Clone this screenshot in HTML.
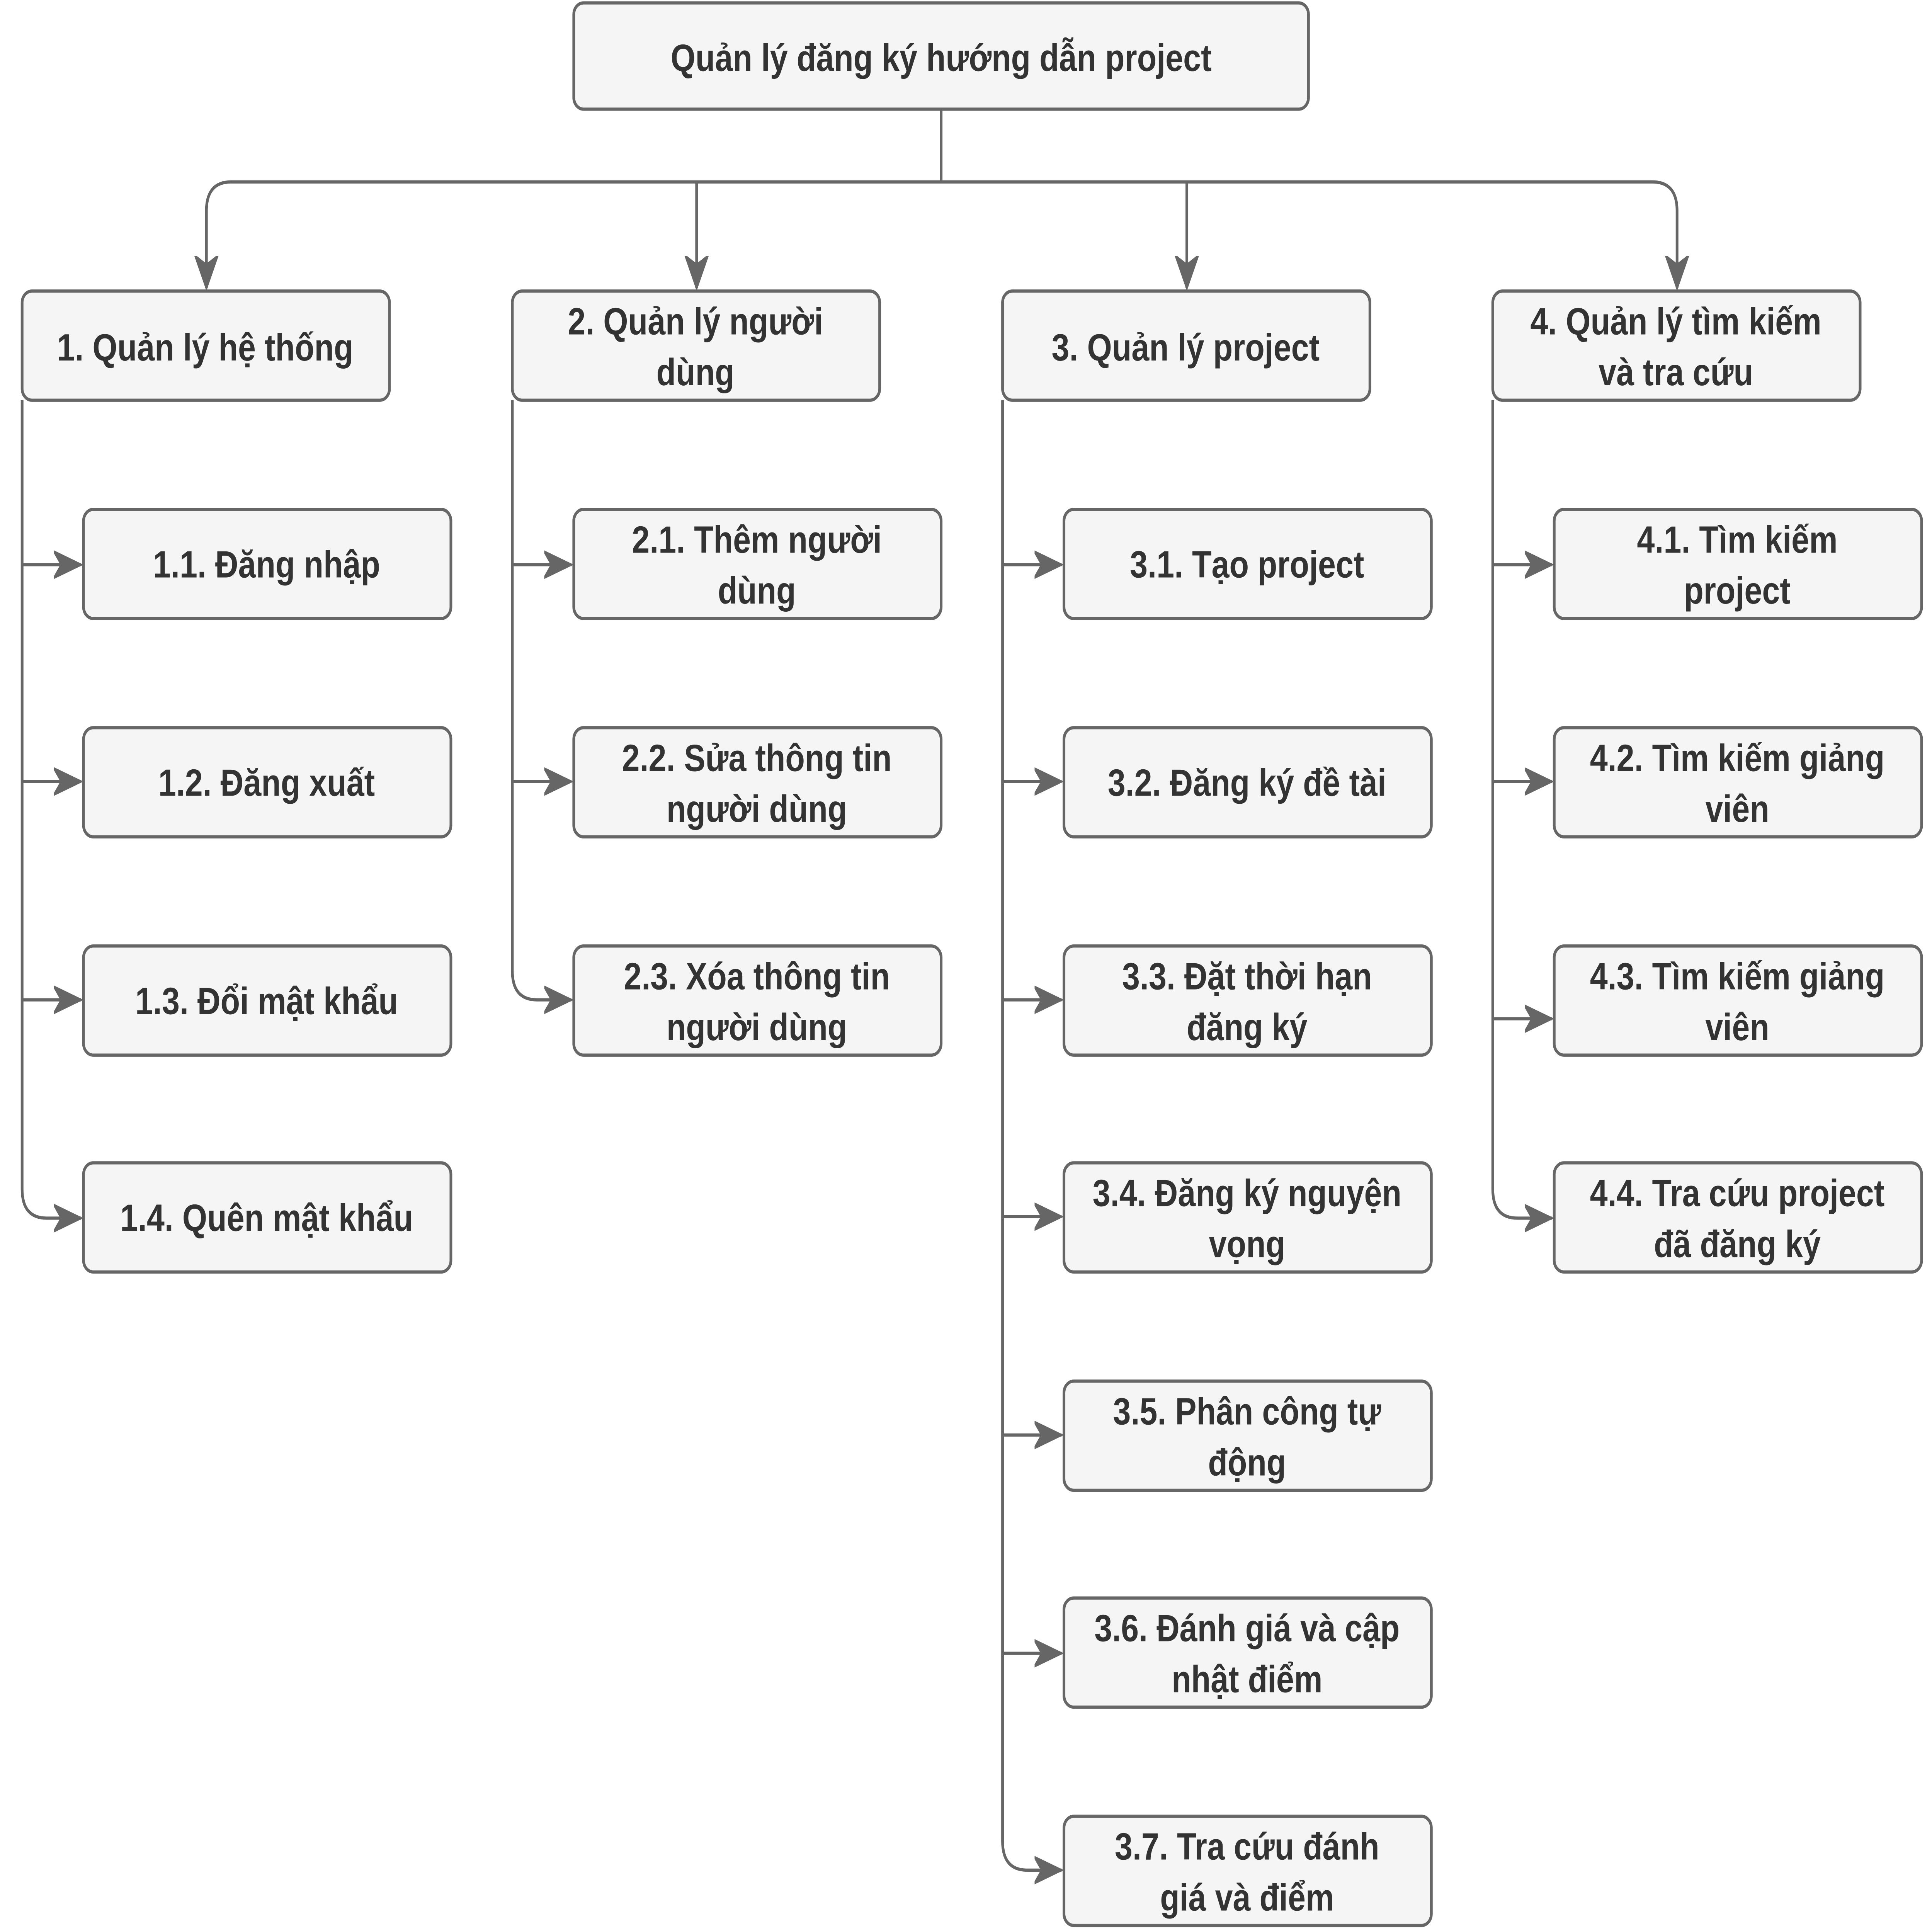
<!DOCTYPE html>
<html><head><meta charset="utf-8"><style>
html,body{margin:0;padding:0;background:#fff;width:100%;height:100%;overflow:hidden;}
svg{display:block;width:100vw;height:100vh;}
text{font-family:"Liberation Sans","DejaVu Sans",sans-serif;font-weight:bold;font-size:26px;fill:#333;text-anchor:middle;dominant-baseline:central;}
rect{fill:#f5f5f5;stroke:#666;stroke-width:2.2;}
path.c{fill:none;stroke:#666;stroke-width:2.2;}
</style></head><body>
<svg viewBox="0 0 1572.5 1327.5" preserveAspectRatio="none" xmlns="http://www.w3.org/2000/svg">
<defs>
<marker id="m" markerWidth="24" markerHeight="20" refX="22" refY="10" orient="auto" markerUnits="userSpaceOnUse" viewBox="0 0 24 20">
<path d="M0,1 L22,10 L0,19 L6,10 Z" fill="#666" stroke="#666" stroke-width="1.5"/></marker></defs>

<path class="c" d="M766,75 V125"/>
<path class="c" d="M188,125 H1345 Q1365,125 1365,145 V198" marker-end="url(#m)"/>
<path class="c" d="M188,125 Q168,125 168,145 V198" marker-end="url(#m)"/>
<path class="c" d="M567,125 V198" marker-end="url(#m)"/>
<path class="c" d="M966,125 V198" marker-end="url(#m)"/>

<rect x="467" y="2" width="598" height="73" rx="8"/>
<text x="766" y="40">Quản lý đăng ký hướng dẫn project</text>

<rect x="18" y="200" width="299" height="75" rx="8"/><text x="167" y="239">1. Quản lý hệ thống</text>
<rect x="417" y="200" width="299" height="75" rx="8"/><text x="566" y="221">2. Quản lý người</text><text x="566" y="256">dùng</text>
<rect x="816" y="200" width="299" height="75" rx="8"/><text x="965" y="239">3. Quản lý project</text>
<rect x="1215" y="200" width="299" height="75" rx="8"/><text x="1364" y="221">4. Quản lý tìm kiếm</text><text x="1364" y="256">và tra cứu</text>

<path class="c" d="M18,275 V817 Q18,837 38,837 H66" marker-end="url(#m)"/>
<path class="c" d="M18,388 H66" marker-end="url(#m)"/>
<path class="c" d="M18,537 H66" marker-end="url(#m)"/>
<path class="c" d="M18,687 H66" marker-end="url(#m)"/>
<rect x="68" y="350" width="299" height="75" rx="8"/><text x="217" y="388">1.1. Đăng nhập</text>
<rect x="68" y="500" width="299" height="75" rx="8"/><text x="217" y="538">1.2. Đăng xuất</text>
<rect x="68" y="650" width="299" height="75" rx="8"/><text x="217" y="688">1.3. Đổi mật khẩu</text>
<rect x="68" y="799" width="299" height="75" rx="8"/><text x="217" y="837">1.4. Quên mật khẩu</text>

<path class="c" d="M417,275 V667 Q417,687 437,687 H465" marker-end="url(#m)"/>
<path class="c" d="M417,388 H465" marker-end="url(#m)"/>
<path class="c" d="M417,537 H465" marker-end="url(#m)"/>
<rect x="467" y="350" width="299" height="75" rx="8"/><text x="616" y="371">2.1. Thêm người</text><text x="616" y="406">dùng</text>
<rect x="467" y="500" width="299" height="75" rx="8"/><text x="616" y="521">2.2. Sửa thông tin</text><text x="616" y="556">người dùng</text>
<rect x="467" y="650" width="299" height="75" rx="8"/><text x="616" y="671">2.3. Xóa thông tin</text><text x="616" y="706">người dùng</text>

<path class="c" d="M816,275 V1265 Q816,1285 836,1285 H864" marker-end="url(#m)"/>
<path class="c" d="M816,388 H864" marker-end="url(#m)"/>
<path class="c" d="M816,537 H864" marker-end="url(#m)"/>
<path class="c" d="M816,687 H864" marker-end="url(#m)"/>
<path class="c" d="M816,836 H864" marker-end="url(#m)"/>
<path class="c" d="M816,986 H864" marker-end="url(#m)"/>
<path class="c" d="M816,1136 H864" marker-end="url(#m)"/>
<rect x="866" y="350" width="299" height="75" rx="8"/><text x="1015" y="388">3.1. Tạo project</text>
<rect x="866" y="500" width="299" height="75" rx="8"/><text x="1015" y="538">3.2. Đăng ký đề tài</text>
<rect x="866" y="650" width="299" height="75" rx="8"/><text x="1015" y="671">3.3. Đặt thời hạn</text><text x="1015" y="706">đăng ký</text>
<rect x="866" y="799" width="299" height="75" rx="8"/><text x="1015" y="820">3.4. Đăng ký nguyện</text><text x="1015" y="855">vọng</text>
<rect x="866" y="949" width="299" height="75" rx="8"/><text x="1015" y="970">3.5. Phân công tự</text><text x="1015" y="1005">động</text>
<rect x="866" y="1098" width="299" height="75" rx="8"/><text x="1015" y="1119">3.6. Đánh giá và cập</text><text x="1015" y="1154">nhật điểm</text>
<rect x="866" y="1248" width="299" height="75" rx="8"/><text x="1015" y="1269">3.7. Tra cứu đánh</text><text x="1015" y="1304">giá và điểm</text>

<path class="c" d="M1215,275 V817 Q1215,837 1235,837 H1263" marker-end="url(#m)"/>
<path class="c" d="M1215,388 H1263" marker-end="url(#m)"/>
<path class="c" d="M1215,537 H1263" marker-end="url(#m)"/>
<path class="c" d="M1215,700 H1263" marker-end="url(#m)"/>
<rect x="1265" y="350" width="299" height="75" rx="8"/><text x="1414" y="371">4.1. Tìm kiếm</text><text x="1414" y="406">project</text>
<rect x="1265" y="500" width="299" height="75" rx="8"/><text x="1414" y="521">4.2. Tìm kiếm giảng</text><text x="1414" y="556">viên</text>
<rect x="1265" y="650" width="299" height="75" rx="8"/><text x="1414" y="671">4.3. Tìm kiếm giảng</text><text x="1414" y="706">viên</text>
<rect x="1265" y="799" width="299" height="75" rx="8"/><text x="1414" y="820">4.4. Tra cứu project</text><text x="1414" y="855">đã đăng ký</text>
</svg>
</body></html>
